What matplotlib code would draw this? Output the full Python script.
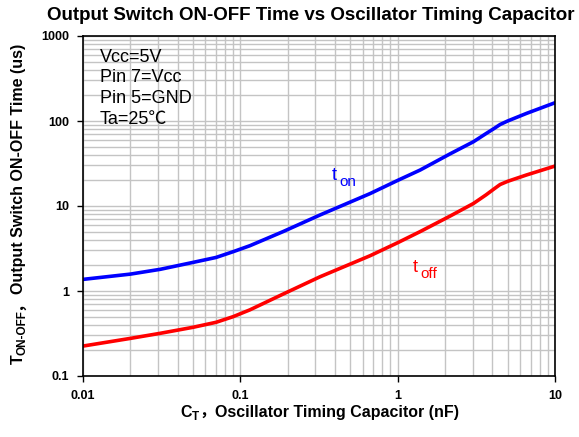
import matplotlib
matplotlib.use("Agg")
import matplotlib.pyplot as plt
from matplotlib.ticker import LogLocator, NullFormatter
from matplotlib.transforms import IdentityTransform

plt.rcParams['font.family'] = ['Liberation Sans', 'Noto Sans CJK SC', 'DejaVu Sans']

ct = [0.01, 0.02, 0.031, 0.05, 0.07, 0.09, 0.115, 0.187, 0.321, 0.668, 1.0, 1.39, 2.15,
      3.03, 3.64, 4.1, 4.48, 5.0, 6.6, 10]
t_on = [1.37, 1.58, 1.80, 2.17, 2.48, 2.90, 3.41, 5.0, 7.84, 14.0, 20.0, 26.5, 41.0,
        57, 71, 81.6, 91, 100, 123, 164]
t_off = [0.225, 0.277, 0.318, 0.374, 0.428, 0.499, 0.6, 0.92, 1.47, 2.6, 3.7, 5.0, 7.6,
         10.7, 13.5, 15.9, 17.9, 19.5, 23.2, 29.5]
xticks = [0.01, 0.1, 1, 10]
xtick_labels = ["0.01", "0.1", "1", "10"]
yticks = [0.1, 1, 10, 100, 1000]
ytick_labels = ["0.1", "1", "10", "100", "1000"]
conditions = ["Vcc=5V", "Pin 7=Vcc", "Pin 5=GND", "Ta=25\u2103"]
title = "Output Switch ON-OFF Time vs Oscillator Timing Capacitor"
xlabel_parts = [("C", False), ("T", True), ("\uff0c", False), ("Oscillator Timing Capacitor (nF)", False)]
ylabel_parts = [("T", False), ("ON-OFF", True), ("\uff0c", False), ("Output Switch ON-OFF Time (us)", False)]

W, H = 579, 437
fig = plt.figure(figsize=(W/100, H/100), dpi=100)
ax = fig.add_axes([83/W, 1-376/H, (555-83)/W, (376-36)/H])
ax.set_xscale('log')
ax.set_yscale('log')
ax.set_xlim(0.01, 10)
ax.set_ylim(0.1, 1000)

ax.plot(ct, t_on, color='#0000ff', lw=2.6, solid_joinstyle='round')
ax.plot(ct, t_off, color='#ff0000', lw=2.6, solid_joinstyle='round')

ax.set_xticks(xticks)
ax.set_xticklabels(xtick_labels, fontsize=9, fontweight='bold')
ax.set_yticks(yticks)
ax.set_yticklabels(ytick_labels, fontsize=9, fontweight='bold')
ax.xaxis.set_minor_locator(LogLocator(base=10, subs=range(2, 10)))
ax.yaxis.set_minor_locator(LogLocator(base=10, subs=range(2, 10)))
ax.xaxis.set_minor_formatter(NullFormatter())
ax.yaxis.set_minor_formatter(NullFormatter())
ax.tick_params(which='minor', length=0)
ax.tick_params(which='major', length=4, width=1, color='black', direction='out', pad=6)
ax.grid(True, which='both', color='#c4c4c4', lw=1)
ax.set_axisbelow(True)
for s in ax.spines.values():
    s.set_linewidth(1.2)
    s.set_color('black')

for i, line in enumerate(conditions):
    fig.text(100/W, 1-(57+20.7*i)/H, line, fontsize=13, va='center', ha='left', color='black')

fig.text(332/W, 1-180/H, "t", color='#0000ff', fontsize=13, ha='left', va='baseline')
fig.text(339/W, 1-186/H, "on", color='#0000ff', fontsize=11, ha='left', va='baseline')
fig.text(413/W, 1-272/H, "t", color='#ff0000', fontsize=13, ha='left', va='baseline')
fig.text(420/W, 1-278/H, "off", color='#ff0000', fontsize=11, ha='left', va='baseline')

fig.text(311/W, 1-15/H, title, fontsize=13.5, fontweight='bold', ha='center', va='center')

renderer = fig.canvas.get_renderer()


def compose(parts, cx, cy, fs, sub_fs, sub_shift, rotation=0):
    widths = []
    for s, sub in parts:
        t = fig.text(0, 0, s, fontsize=sub_fs if sub else fs, fontweight='bold')
        widths.append(t.get_window_extent(renderer).width)
        t.remove()
    pos = -sum(widths) / 2
    for (s, sub), w in zip(parts, widths):
        shift = sub_shift if sub else 0
        if rotation == 0:
            x, y = cx + pos, cy - shift
        else:
            x, y = cx + shift, cy + pos
        fig.text(x, y, s, transform=IdentityTransform(), fontsize=sub_fs if sub else fs,
                 fontweight='bold', rotation=rotation, rotation_mode='anchor',
                 ha='left', va='baseline')
        pos += w


compose(xlabel_parts, 320, 20, 11.5, 8.5, 3)
compose(ylabel_parts, 23, 233, 11.5, 8.5, 3, rotation=90)

fig.savefig("out.png", dpi=100)
